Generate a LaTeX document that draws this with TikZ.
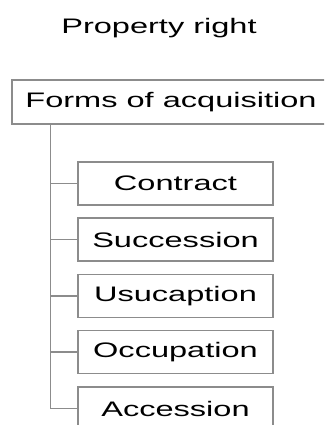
\documentclass[tikz,border=0pt]{standalone}
\usepackage{fontspec}
\setmainfont[FakeStretch=1.55]{Liberation Sans}
\definecolor{linegray}{RGB}{140,140,140}
\begin{document}
\begin{tikzpicture}[x=1pt,y=-1pt,
  box/.style={draw=linegray, line width=1.5pt, rectangle, inner sep=0pt,
    font=\fontsize{21}{25}\selectfont},
  childbox/.style={box, minimum width=195pt, minimum height=43pt},
  conn/.style={draw=linegray, line width=1.5pt}]
\useasboundingbox (0,0) rectangle (324,425);
\clip (0,0) rectangle (324,425);
\fill[white] (0,0) rectangle (324,425);
\node[font=\fontsize{21}{25}\selectfont, anchor=base, inner sep=0pt] (title) at (159,33.3) {Property right};
\node[box, minimum width=318pt, minimum height=44pt] (forms) at (171,102) {Forms of acquisition};
\node[childbox] (c1) at (175.5,183.3) {Contract};
\node[childbox] (c2) at (175.5,239.6) {Succession};
\node[childbox] (c3) at (175.5,295.9) {Usucaption};
\node[childbox] (c4) at (175.5,352.2) {Occupation};
\node[childbox] (c5) at (175.5,408.5) {Accession};
\coordinate (t0) at ([xshift=39pt]forms.south west);
\draw[conn] (t0) |- (c5.west);
\foreach \n in {c1,c2,c3,c4}{
  \draw[conn] (t0 |- \n.west) -- (\n.west);
}
\end{tikzpicture}
\end{document}
